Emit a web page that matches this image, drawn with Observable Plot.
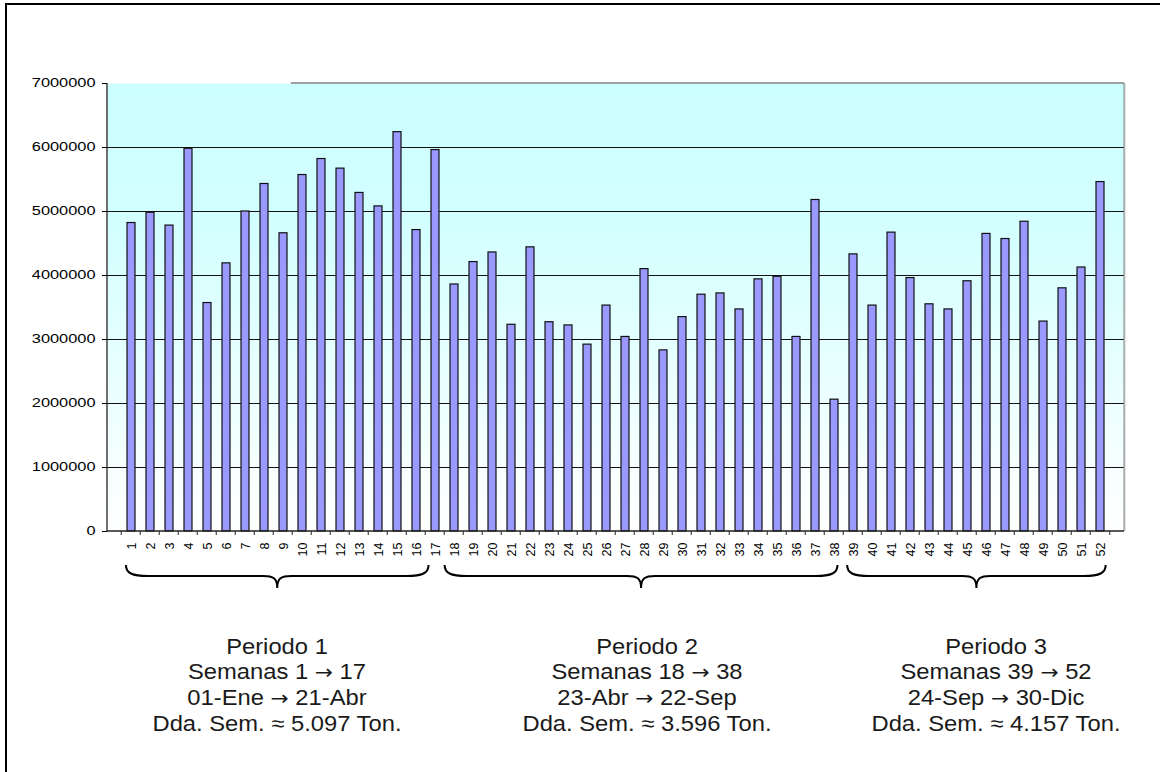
<!DOCTYPE html>
<html><head><meta charset="utf-8">
<script src="https://cdn.jsdelivr.net/npm/d3@7"></script>
<script src="https://cdn.jsdelivr.net/npm/@observablehq/plot@0.6"></script>
<style>
body{margin:0;background:#fff;}
#page{position:relative;width:1160px;height:772px;overflow:hidden;font-family:Arial,"Liberation Sans",sans-serif;}
#chart{position:absolute;left:0;top:0;}
#frame{position:absolute;left:5px;top:3px;width:1200px;height:800px;border-left:2px solid #000;border-top:2px solid #000;pointer-events:none;}
.period{position:absolute;width:360px;text-align:center;font-size:22px;line-height:25px;color:#1a1a1a;white-space:nowrap;transform:scaleX(1.08);transform-origin:50% 0;}
.arr{font-family:"DejaVu Sans",sans-serif;font-size:20px;}
</style></head><body>
<div id="page"><div id="chart"></div><div id="frame"></div></div>
<script>
// ---- data ----
const weeks = ["1","2","3","4","5","6","7","8","9","10","11","12","13","14","15","16","17","18","19","20","21","22","23","24","25","26","27","28","29","30","31","32","33","34","35","36","37","38","39","40","41","42","43","44","45","46","47","48","49","50","51","52"];
const demand = [4820000,4980000,4780000,5980000,3570000,4190000,5000000,5430000,4660000,5570000,5820000,5670000,5290000,5080000,6240000,4710000,5960000,
  3860000,4210000,4360000,3230000,4440000,3270000,3220000,2920000,3530000,3040000,4100000,2830000,3350000,3700000,3720000,3470000,3940000,3980000,3040000,5180000,2060000,
  4330000,3530000,4670000,3960000,3550000,3470000,3910000,4650000,4570000,4840000,3280000,3800000,4125000,5460000];
const yTicks = [0,1000000,2000000,3000000,4000000,5000000,6000000,7000000];
const periodNames = ["Periodo 1","Periodo 2","Periodo 3"];
const periodFirst = ["1","18","39"];
const periodLast = ["17","38","52"];
const periodDates = [["01-Ene","21-Abr"],["23-Abr","22-Sep"],["24-Sep","30-Dic"]];
const periodAvg = ["5.097","3.596","4.157"];

// ---- layout ----
const W = 1160, H = 612;
const mL = 107, mR = 36, mT = 83, mB = H - 531;
const braceInset = [[0.24, 0.83], [0.02, 0.32], [0.2, 0.21]]; // in band steps
const textShift = [0, 6, 20];

const data = weeks.map((w, i) => ({week: w, value: demand[i]}));

const plot = Plot.plot({
  width: W, height: H,
  marginLeft: mL, marginRight: mR, marginTop: mT, marginBottom: mB,
  style: {fontFamily: 'Arial, "Liberation Sans", sans-serif', background: "transparent", overflow: "visible", color: "#000"},
  x: {type: "band", domain: weeks, paddingInner: 0.58, paddingOuter: 0.29, label: null},
  y: {domain: [0, 7000000], label: null},
  marks: [
    Plot.frame({fill: "url(#bgGrad)", stroke: "none"}),
    Plot.ruleY(yTicks.filter(d => d > 0 && d < 7000000), {stroke: "#111", strokeWidth: 1}),
    Plot.barY(data, {x: "week", y: "value", fill: "#9999FF", stroke: "#111", strokeWidth: 1.2}),
    Plot.axisY({ticks: yTicks, tickFormat: d => String(d), tickSize: 5, tickPadding: 7, fontSize: 12, label: null}),
    Plot.axisX({tickSize: 0, tickPadding: 11, tickRotate: -90, fontSize: 12.5, label: null})
  ]
});
document.getElementById("chart").appendChild(plot);

const svg = d3.select(plot);
const xs = plot.scale("x");
const ys = plot.scale("y");
const step = (W - mL - mR) / weeks.length;
const bandStart = w => xs.apply(w) - (step - xs.bandwidth) / 2;
const x0 = mL, x1 = W - mR, yTop = ys.apply(7000000), yBot = ys.apply(0);

// gradient
const defs = svg.insert("defs", ":first-child");
const grad = defs.append("linearGradient").attr("id", "bgGrad").attr("x1", 0).attr("y1", 0).attr("x2", 0).attr("y2", 1);
grad.append("stop").attr("offset", "0%").attr("stop-color", "#CCFFFF");
grad.append("stop").attr("offset", "30%").attr("stop-color", "#D2FFFF");
grad.append("stop").attr("offset", "100%").attr("stop-color", "#FFFFFF");

const g = svg.append("g");
// plot-area border (gray top partly, right)
g.append("line").attr("x1", bandStart("9") + 0.9 * step).attr("x2", x1).attr("y1", yTop).attr("y2", yTop).attr("stroke", "#808080").attr("stroke-width", 1.5);
g.append("line").attr("x1", x1 + 1).attr("x2", x1 + 1).attr("y1", yTop).attr("y2", yBot).attr("stroke", "#c8c8c8").attr("stroke-width", 1);
g.append("line").attr("x1", x1).attr("x2", x1).attr("y1", yTop).attr("y2", yBot).attr("stroke", "#808080").attr("stroke-width", 1);
// axes lines
g.append("line").attr("x1", x0).attr("x2", x0).attr("y1", yTop).attr("y2", yBot).attr("stroke", "#222").attr("stroke-width", 1.3);
g.append("line").attr("x1", x0).attr("x2", x1).attr("y1", yBot).attr("y2", yBot).attr("stroke", "#222").attr("stroke-width", 1.3);
// x ticks at band boundaries
const bounds = weeks.map(w => bandStart(w)).concat([bandStart(weeks[weeks.length - 1]) + step]);
g.selectAll("line.xt").data(bounds).join("line").attr("class", "xt")
  .attr("x1", d => d).attr("x2", d => d).attr("y1", yBot).attr("y2", yBot + 4).attr("stroke", "#222");

// stretch y labels like the reference
svg.selectAll('g[aria-label="y-axis tick label"] text').each(function() {
  const t = d3.select(this);
  t.attr("textLength", t.text().length * 9.1).attr("lengthAdjust", "spacingAndGlyphs");
});

// braces + period captions
const yb0 = 565, yb1 = 576, yb2 = 588;
const page = document.getElementById("page");
const arrow = '<span class="arr">\u2192</span>';
periodNames.forEach((name, i) => {
  const a = bandStart(periodFirst[i]) + braceInset[i][0] * step;
  const b = bandStart(periodLast[i]) + step - braceInset[i][1] * step;
  const m = (a + b) / 2;
  const p = `M${a},${yb0} C${a},${yb0 + 8} ${a + 6},${yb1} ${a + 22},${yb1} L${m - 14},${yb1} C${m - 4},${yb1} ${m},${yb1 + 2} ${m},${yb2} C${m},${yb1 + 2} ${m + 4},${yb1} ${m + 14},${yb1} L${b - 22},${yb1} C${b - 6},${yb1} ${b},${yb0 + 8} ${b},${yb0}`;
  g.append("path").attr("d", p).attr("fill", "none").attr("stroke", "#000").attr("stroke-width", 2);
  const div = document.createElement("div");
  div.className = "period";
  div.style.left = (m + textShift[i] - 180) + "px";
  div.style.top = "634px";
  div.innerHTML = `${name}<br>Semanas ${periodFirst[i]} ${arrow} ${periodLast[i]}<br>${periodDates[i][0]} ${arrow} ${periodDates[i][1]}<br>Dda. Sem. \u2248 ${periodAvg[i]} Ton.`;
  page.appendChild(div);
});
</script>
</body></html>
